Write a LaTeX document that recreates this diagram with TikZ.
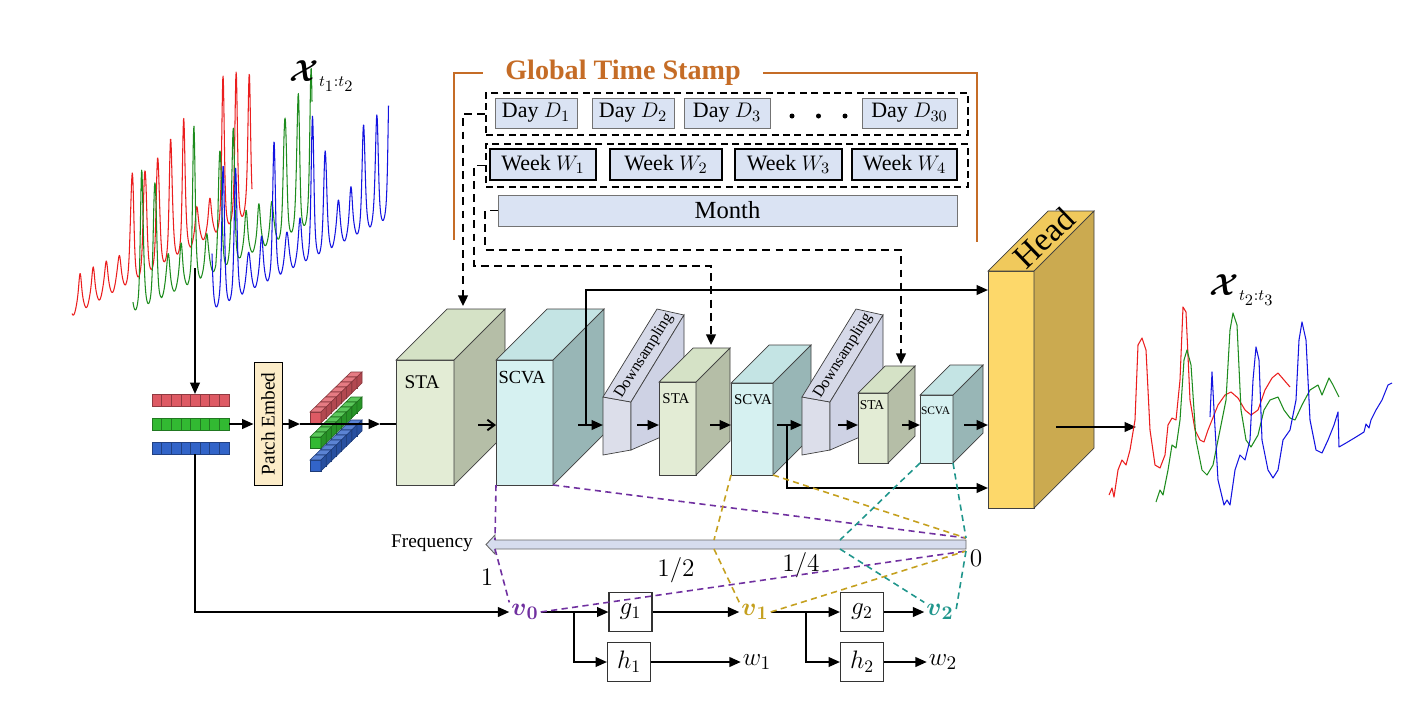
\documentclass[tikz,border=0pt]{standalone}
\usepackage{amsmath}
\usepackage{fontspec}
\setmainfont{Liberation Serif}
\usetikzlibrary{arrows.meta,calc}

\def\px{0.02cm}
\definecolor{gtsorange}{RGB}{197,108,38}
\definecolor{stampfill}{RGB}{218,227,243}
\definecolor{embedfill}{RGB}{252,236,200}
\definecolor{freqfill}{RGB}{214,220,238}
\definecolor{stafront}{RGB}{227,236,213}
\definecolor{staside}{RGB}{181,190,167}
\definecolor{statop}{RGB}{213,226,198}
\definecolor{scvafront}{RGB}{214,241,241}
\definecolor{scvaside}{RGB}{152,182,182}
\definecolor{scvatop}{RGB}{196,228,228}
\definecolor{dsfront}{RGB}{220,222,234}
\definecolor{dsside}{RGB}{206,210,228}
\definecolor{dstop}{RGB}{214,217,232}
\definecolor{headfront}{RGB}{253,216,106}
\definecolor{headside}{RGB}{203,170,80}
\definecolor{headtop}{RGB}{240,201,92}
\definecolor{tokred}{RGB}{222,90,100}
\definecolor{tokgreen}{RGB}{50,185,50}
\definecolor{tokblue}{RGB}{50,100,200}
\definecolor{sigred}{RGB}{235,30,30}
\definecolor{siggreen}{RGB}{30,140,30}
\definecolor{sigblue}{RGB}{20,20,225}
\definecolor{vzero}{RGB}{112,48,160}
\definecolor{vone}{RGB}{197,160,30}
\definecolor{vtwo}{RGB}{32,150,140}

% x, y (top), width, height, depth, front, side, top
\newcommand{\blockbox}[8]{%
  \draw[fill=#6,draw=black!75,line width=0.4pt] (#1,#2) rectangle ++(#3,#4);
  \draw[fill=#8,draw=black!75,line width=0.4pt] (#1,#2) -- ++(#5,-#5) -- ++(#3,0) -- ++(-#5,#5) -- cycle;
  \draw[fill=#7,draw=black!75,line width=0.4pt] (#1+#3,#2) -- ++(#5,-#5) -- ++(0,#4) -- ++(-#5,#5) -- cycle;
}
% shift, name
\newcommand{\dsblock}[2]{%
  \begin{scope}[xshift=#1*\px]
  \draw[fill=dsfront,draw=black!75,line width=0.4pt] (603,397) -- (631,402) -- (631,450) -- (603,455) -- cycle;
  \draw[fill=dstop,draw=black!75,line width=0.4pt] (603,397) -- (657,309) -- (684,315) -- (631,402) -- cycle;
  \draw[fill=dsside,draw=black!75,line width=0.4pt] (631,402) -- (684,315) -- (684,427) -- (631,450) -- cycle;
  \node[rotate=58, inner sep=0, font=\fontsize{9}{10}\selectfont] (#2) at (644,356) {Downsampling};
  \end{scope}
}
% x, y (top), colour
\newcommand{\tokcube}[3]{%
  \draw[fill=#3,draw=#3!60!black,line width=0.3pt] (#1,#2) rectangle ++(11,11);
  \draw[fill=#3!80!white,draw=#3!60!black,line width=0.3pt] (#1,#2) -- ++(5.125,-5) -- ++(11,0) -- ++(-5.125,5) -- cycle;
  \draw[fill=#3!80!black,draw=#3!60!black,line width=0.3pt] (#1+11,#2) -- ++(5.125,-5) -- ++(0,11) -- ++(-5.125,5) -- cycle;
}

\begin{document}
\begin{tikzpicture}[x=0.02cm, y=-0.02cm, font=\fontsize{11}{13}\selectfont,
  line/.style={line width=1.1pt},
  arr/.style={line width=1.1pt, -{Triangle[length=6.5pt,width=5.5pt]}},
  barb/.style={line width=1.1pt, -{Straight Barb[length=4pt,width=6pt]}},
  route/.style={line width=1.1pt, dash pattern=on 4.5pt off 3pt, -{Triangle[length=6pt,width=5.5pt]}},
  gts/.style={gtsorange, line width=1pt},
  grp/.style={draw, line width=1.1pt, dash pattern=on 4pt off 2.5pt, inner sep=0},
  daybox/.style={draw=black!55, fill=stampfill, line width=0.5pt, minimum height=30*\px, inner sep=0, font=\fontsize{12.5}{14}\selectfont},
  weekbox/.style={draw, fill=stampfill, line width=1.2pt, minimum height=31*\px, inner sep=0, font=\fontsize{12.5}{14}\selectfont},
  funcbox/.style={draw=black!80, line width=0.6pt, minimum width=43*\px, minimum height=39*\px, inner sep=0, font=\fontsize{14}{16}\selectfont},
  vlab/.style={inner sep=1pt, font=\fontsize{15}{17}\selectfont},
  num/.style={inner sep=0, font=\fontsize{14}{16}\selectfont},
  fdash/.style={line width=0.9pt, dash pattern=on 3.5pt off 2.5pt},
  sig/.style={line width=0.6pt, line join=round}]
%%%%% START %%%%%
\fill[white] (0,0) rectangle (1410,704);
\useasboundingbox (0,0) rectangle (1410,704);

%%% input signal
\draw[sig, sigred] plot[domain=72:252, samples=500] (\x,{307-0.58*(\x-72)-9*cos(27.69*(\x-132))-(110+25*sin(53*(\x-72)))*(0.15+0.85*((\x>126)*(\x<190)+(\x>217)))*exp(0-5*sin(13.846*(\x-132))*sin(13.846*(\x-132)))});
\draw[sig, siggreen] plot[domain=133:312, samples=500] (\x,{303-0.5*(\x-133)-9*cos(27.69*(\x-142))-(120+20*sin(61*(\x-133)))*(0.2+0.8*((\x<161)+(\x>188)*(\x<200)+(\x>216)*(\x<240)+(\x>279)))*exp(0-5*sin(13.846*(\x-142))*sin(13.846*(\x-142)))});
\draw[sig, sigblue] plot[domain=212:388.5, samples=500] (\x,{300-0.52*(\x-212)-10*cos(28.125*(\x-223))-(100+25*sin(37*(\x-212)))*(0.25+0.75*((\x<242)+(\x>268)*(\x<280)+(\x>306)*(\x<331)+(\x>357)))*exp(0-5*sin(14.0625*(\x-223))*sin(14.0625*(\x-223)))});
\node (xin) at (322,76) {\fontsize{18}{18}\selectfont$\boldsymbol{\mathcal{X}}_{\scriptscriptstyle t_1:t_2}$};

%%% token bars
\foreach \i in {0,...,7} {
  \draw[fill=tokred, draw=tokred!65!black, line width=0.3pt] (152+\i*9.625,394) rectangle ++(9.625,12);
  \draw[fill=tokgreen, draw=tokgreen!65!black, line width=0.3pt] (152+\i*9.625,418) rectangle ++(9.625,12);
  \draw[fill=tokblue, draw=tokblue!65!black, line width=0.3pt] (152+\i*9.625,442) rectangle ++(9.625,12);
}
\coordinate (sigtap) at (195,268);
\coordinate (barRtop) at (195,394);
\coordinate (barGeast) at (229,424);
\coordinate (barBbot) at (195,454);
\draw[arr] (sigtap) -- (barRtop);

\node[rotate=90, draw, fill=embedfill, line width=0.5pt, minimum width=123*\px, minimum height=28*\px, inner sep=0] (embed) at (268,424) {Patch Embed};
\draw[arr] (barGeast) -- (embed);

%%% embedded tokens
\foreach \k in {7,6,...,0} {
  \tokcube{310+\k*5.125}{412-\k*5}{tokred}
}
\foreach \k in {7,6,...,0} {
  \tokcube{310+\k*5.125}{437-\k*5}{tokgreen}
}
\foreach \k in {7,6,...,0} {
  \tokcube{310+\k*5.125}{460-\k*5}{tokblue}
}
\coordinate (tokin) at (300,424);
\coordinate (tokout) at (380,424);
\coordinate (sta1in) at (396,424);
\draw[arr] (embed) -- (tokin);
\draw[arr] (tokin) -- (tokout);
\draw[line] (tokout) -- (sta1in);

%%% global time stamp
\draw[gts] (454,240) -- (454,73) -- (483,73);
\draw[gts] (763,73) -- (977,73) -- (977,242);
\node[text=gtsorange, font=\fontsize{16}{18}\selectfont\bfseries] (gtitle) at (623,73) {Global Time Stamp};

\node[grp, minimum width=482*\px, minimum height=42*\px] (daygrp) at (727,114) {};
\node[daybox, minimum width=82*\px] (day1) at (536,113) {Day $D_1$};
\node[daybox, minimum width=82*\px] (day2) at (633,113) {Day $D_2$};
\node[daybox, minimum width=86*\px] (day3) at (727,113) {Day $D_3$};
\foreach \d/\xd in {1/792,2/818.5,3/845}
  \node[circle, fill, inner sep=0, minimum size=5*\px] (dot\d) at (\xd,116) {};
\node[daybox, minimum width=95*\px] (day30) at (909.5,113) {Day $D_{30}$};

\node[grp, minimum width=482*\px, minimum height=43*\px] (weekgrp) at (727,165.5) {};
\node[weekbox, minimum width=106*\px] (week1) at (543,164.5) {Week $W_1$};
\node[weekbox, minimum width=112*\px] (week2) at (666,164.5) {Week $W_2$};
\node[weekbox, minimum width=107*\px] (week3) at (788.5,164.5) {Week $W_3$};
\node[weekbox, minimum width=105*\px] (week4) at (904.5,164.5) {Week $W_4$};

\node[daybox, minimum width=459*\px, minimum height=31*\px, font=\fontsize{14}{16}\selectfont] (month) at (727.5,210.5) {Month};

%%% blocks
\blockbox{396}{360}{58}{125}{51}{stafront}{staside}{statop}
\node[inner sep=0] (sta1) at (422,382) {STA};
\blockbox{496}{360}{57}{125}{51}{scvafront}{scvaside}{scvatop}
\node[inner sep=0, font=\fontsize{10.5}{12}\selectfont] (scva1) at (522,378) {SCVA};
\dsblock{0}{ds1}
\blockbox{659}{382}{37}{93}{34}{stafront}{staside}{statop}
\node[inner sep=0, font=\fontsize{8.5}{10}\selectfont] (sta2) at (676,398.5) {STA};
\blockbox{731}{383}{42}{92}{38}{scvafront}{scvaside}{scvatop}
\node[inner sep=0, font=\fontsize{8.5}{10}\selectfont] (scva2) at (753,399.5) {SCVA};
\dsblock{199}{ds2}
\blockbox{858}{393}{30}{70}{27}{stafront}{staside}{statop}
\node[inner sep=0, font=\fontsize{7.7}{9}\selectfont] (sta3) at (872,405) {STA};
\blockbox{920}{395}{33}{68}{30}{scvafront}{scvaside}{scvatop}
\node[inner sep=0, font=\fontsize{6.5}{8}\selectfont] (scva3) at (935.5,410.5) {SCVA};
\blockbox{988}{271}{46}{237}{60}{headfront}{headside}{headtop}
\node[rotate=44, inner sep=0, font=\fontsize{19}{21}\selectfont] (head) at (1044,238) {Head};

%%% main path
\coordinate (sta1out) at (478,425);
\coordinate (scva1in) at (496,425);
\coordinate (scva1out) at (578,425);
\coordinate (skip1) at (586,425);
\coordinate (ds1in) at (603,425);
\coordinate (ds1out) at (637,425);
\coordinate (sta2in) at (659,425);
\coordinate (sta2out) at (710,425);
\coordinate (scva2in) at (731,425);
\coordinate (scva2out) at (777,425);
\coordinate (skip2) at (787,425);
\coordinate (ds2in) at (802,425);
\coordinate (ds2out) at (838,425);
\coordinate (sta3in) at (858,425);
\coordinate (sta3out) at (902,425);
\coordinate (scva3in) at (920,425);
\coordinate (scva3out) at (964,425);
\coordinate (headin) at (988,425);
\coordinate (headtop) at (988,290);
\coordinate (headbot) at (988,488);
\coordinate (headout) at (1056,427);
\coordinate (predin) at (1136,427);

\draw[barb] (sta1out) -- (scva1in);
\draw[arr] (scva1out) -- (ds1in);
\draw[arr] (ds1out) -- (sta2in);
\draw[arr] (sta2out) -- (scva2in);
\draw[arr] (scva2out) -- (ds2in);
\draw[arr] (ds2out) -- (sta3in);
\draw[arr] (sta3out) -- (scva3in);
\draw[arr] (scva3out) -- (headin);
\draw[arr] (skip1) |- (headtop);
\draw[arr] (skip2) |- (headbot);
\draw[arr] (headout) -- (predin);

%%% time stamp routes
\coordinate (sta1top) at (463,306);
\coordinate (sta2top) at (711,345);
\coordinate (sta3top) at (901,364);
\draw[route] (daygrp.west) -| (sta1top);
\draw[route] (weekgrp.west) -| (474,266) -| (sta2top);
\draw[route] (month.west) -| (485,250) -| (sta3top);

%%% output signal
\draw[sig, sigred] plot coordinates {(1109,495) (1112,488) (1114,497) (1118,470) (1122,460) (1126,465) (1130,450) (1135,420) (1138,345) (1142,338) (1146,350) (1150,430) (1155,465) (1160,468) (1165,455) (1168,425) (1172,418) (1176,420) (1180,380) (1183,307) (1186,312) (1190,400) (1195,430) (1200,440) (1204,442) (1208,430) (1212,420) (1218,405) (1225,395) (1231,392) (1238,398) (1245,410) (1251,415) (1258,410) (1265,390) (1272,378) (1278,373) (1284,380) (1290,387)};
\draw[sig, siggreen] plot coordinates {(1156,502) (1160,490) (1163,495) (1168,470) (1172,445) (1176,448) (1180,420) (1184,360) (1187,350) (1191,365) (1196,440) (1202,470) (1207,475) (1213,465) (1220,430) (1226,400) (1230,330) (1233,313) (1237,325) (1241,410) (1246,440) (1251,447) (1258,435) (1264,410) (1270,400) (1278,397) (1284,410) (1290,418) (1295,420) (1302,405) (1310,390) (1318,385) (1322,395) (1329,378) (1333,385) (1339,397)};
\draw[sig, sigblue] plot coordinates {(1210,417) (1212,372) (1214,410) (1218,480) (1224,505) (1227,500) (1230,505) (1235,470) (1240,455) (1245,460) (1250,440) (1253,380) (1256,347) (1259,360) (1262,440) (1268,470) (1273,478) (1278,470) (1283,440) (1290,430) (1296,400) (1299,340) (1302,322) (1306,340) (1310,420) (1316,450) (1322,453) (1328,440) (1334,425) (1338,412) (1339,447) (1346,443) (1356,437) (1364,432) (1366,424) (1369,428) (1371,420) (1376,410) (1382,400) (1388,385) (1392,383)};
\node (xout) at (1242,290) {\fontsize{18}{18}\selectfont$\boldsymbol{\mathcal{X}}_{\scriptscriptstyle t_2:t_3}$};

%%% frequency axis
\draw[fill=freqfill, draw=black!60, line width=0.5pt] (966,540) -- (495,540) -- (495,535) -- (486,544.5) -- (495,554) -- (495,549) -- (966,549) -- cycle;
\node (freqlab) at (432,543) {Frequency};
\node[num] (one) at (487,577) {$1$};
\node[num] (half) at (676,570) {$1/2$};
\node[num] (quarter) at (801,565) {$1/4$};
\node[num] (zero) at (976,558) {$0$};
\coordinate (f1t) at (495,540);
\coordinate (f1b) at (495,549);
\coordinate (f2t) at (714,540);
\coordinate (f2b) at (714,549);
\coordinate (f4t) at (840,540);
\coordinate (f4b) at (840,549);
\coordinate (f0t) at (966,538);
\coordinate (f0b) at (966,551);

%%% decomposition
\node[vlab, text=vzero] (v0) at (525,612) {$\boldsymbol{v}_{\boldsymbol{0}}$};
\node[vlab, text=vone] (v1) at (755,612) {$\boldsymbol{v}_{\boldsymbol{1}}$};
\node[vlab, text=vtwo] (v2) at (940,612) {$\boldsymbol{v}_{\boldsymbol{2}}$};
\node[funcbox] (g1) at (630.5,612) {$g_1$};
\node[funcbox] (h1) at (629,662) {$h_1$};
\node[funcbox] (g2) at (862,612) {$g_2$};
\node[funcbox] (h2) at (862,662) {$h_2$};
\node[vlab] (w1) at (757,662) {$w_1$};
\node[vlab] (w2) at (943,662) {$w_2$};
\coordinate (br1) at (574,612);
\coordinate (br2) at (806,612);

\draw[arr] (barBbot) |- (v0);
\draw[line] (v0) -- (br1);
\draw[arr] (br1) -- (g1);
\draw[arr] (br1) |- (h1);
\draw[arr] (g1) -- (v1);
\draw[arr] (h1) -- (w1);
\draw[line] (v1) -- (br2);
\draw[arr] (br2) -- (g2);
\draw[arr] (br2) |- (h2);
\draw[arr] (g2) -- (v2);
\draw[arr] (h2) -- (w2);

%%% frequency mapping
\draw[fdash, vzero] (496,485) -- (f1t);
\draw[fdash, vzero] (553,485) -- (f0t);
\draw[fdash, vzero] (f1b) -- (v0.north west);
\draw[fdash, vzero] (v0.east) -- (f0b);
\draw[fdash, vone] (731,475) -- (f2t);
\draw[fdash, vone] (773,475) -- (f0t);
\draw[fdash, vone] (f2b) -- (v1.north west);
\draw[fdash, vone] (v1.east) -- (f0b);
\draw[fdash, vtwo] (920,463) -- (f4t);
\draw[fdash, vtwo] (953,463) -- (f0t);
\draw[fdash, vtwo] (f4b) -- (v2.north west);
\draw[fdash, vtwo] (f0b) -- (v2.east);
%%%%% END %%%%%
\end{tikzpicture}
\end{document}
